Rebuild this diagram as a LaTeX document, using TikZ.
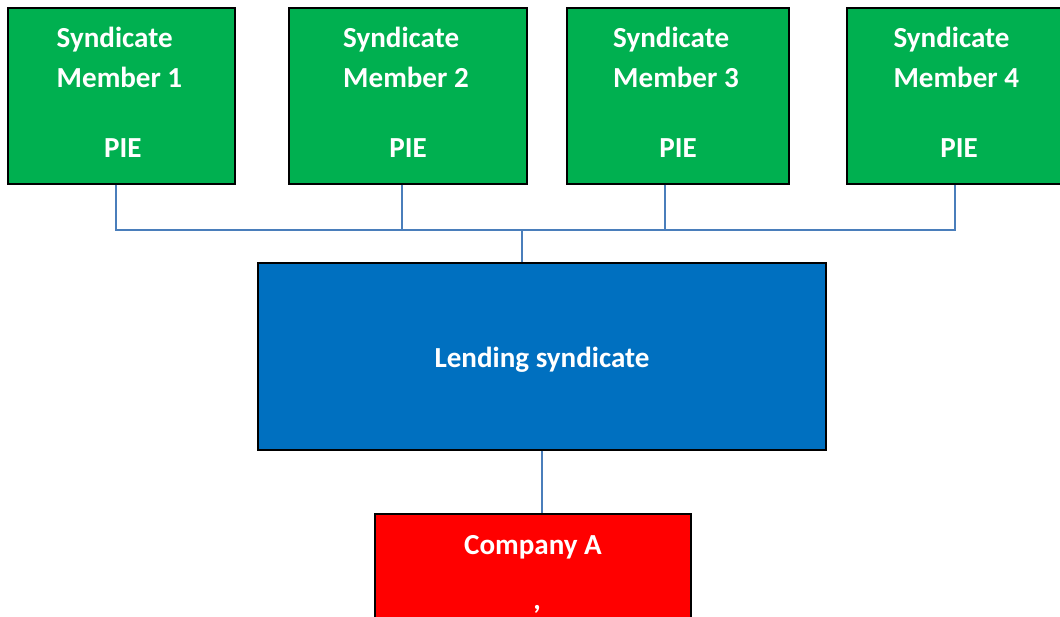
\documentclass[tikz,border=0pt]{standalone}
\usepackage{fontspec}
\setmainfont{Carlito}
\definecolor{memgreen}{HTML}{00B050}
\definecolor{lendblue}{HTML}{0070C0}
\definecolor{compred}{HTML}{FF0000}
\definecolor{linkblue}{HTML}{4A7EBB}
\begin{document}
\begin{tikzpicture}[x=0.75pt,y=-0.75pt]
\tikzstyle{every node}+=[inner sep=0pt]
\tikzset{
  member/.style={draw=black, line width=1.1pt, fill=memgreen, minimum height=132pt},
  lendbox/.style={draw=black, line width=1.1pt, fill=lendblue, minimum width=426pt, minimum height=140.25pt},
  compbox/.style={draw=black, line width=1.1pt, fill=compred, minimum width=237pt, minimum height=112.5pt},
  boxtext/.style={text=white, font=\bfseries\fontsize{21.8}{30}\selectfont},
  link/.style={draw=linkblue, line width=1.1pt}
}
\useasboundingbox (0,0) rectangle (1060,617);
% members
\node [member, minimum width=170.25pt] (m1) at (121.5,96) {};
\node [member, minimum width=178.5pt] (m2) at (408,96) {};
\node [member, minimum width=166.5pt] (m3) at (678,96) {};
\node [member, minimum width=168pt] (m4) at (959,96) {};
\node [boxtext, align=left] (t1) at ([xshift=-1.5pt,yshift=-37.5pt]m1.north) {Syndicate\\Member 1};
\node [boxtext, align=left] (t2) at ([xshift=-1.5pt,yshift=-37.5pt]m2.north) {Syndicate\\Member 2};
\node [boxtext, align=left] (t3) at ([xshift=-1.5pt,yshift=-37.5pt]m3.north) {Syndicate\\Member 3};
\node [boxtext, align=left] (t4) at ([xshift=-2pt,yshift=-37.5pt]m4.north) {Syndicate\\Member 4};
\node [boxtext] (p1) at ([xshift=1pt,yshift=27.75pt]m1.south) {PIE};
\node [boxtext] (p2) at ([yshift=27.75pt]m2.south) {PIE};
\node [boxtext] (p3) at ([yshift=27.75pt]m3.south) {PIE};
\node [boxtext] (p4) at ([yshift=27.75pt]m4.south) {PIE};
% syndicate and company
\node [lendbox] (lend) at (542,356.5) {};
\node [boxtext] (lendt) at ([yshift=-2.25pt]lend.center) {Lending syndicate};
\node [compbox] (comp) at (533,589) {};
\node [boxtext] (compt) at ([yshift=-25.5pt]comp.north) {Company A};
\node [boxtext] (compc) at (537,609) {,};
% links
\coordinate (busl) at (116,230);
\coordinate (busr) at (955,230);
\coordinate (d2) at ([xshift=-4.5pt]m2.south);
\coordinate (d3) at ([xshift=-9.75pt]m3.south);
\coordinate (up) at ([xshift=-15pt]lend.north);
\draw [link] ([xshift=-4.125pt]m1.south) -- (busl) -- (busr) -- ([xshift=-3pt]m4.south);
\draw [link] (d2) -- (d2 |- busl);
\draw [link] (d3) -- (d3 |- busl);
\draw [link] (up) -- (up |- busl);
\draw [link] (lend.south) -- (lend.south |- comp.north);
\end{tikzpicture}
\end{document}
